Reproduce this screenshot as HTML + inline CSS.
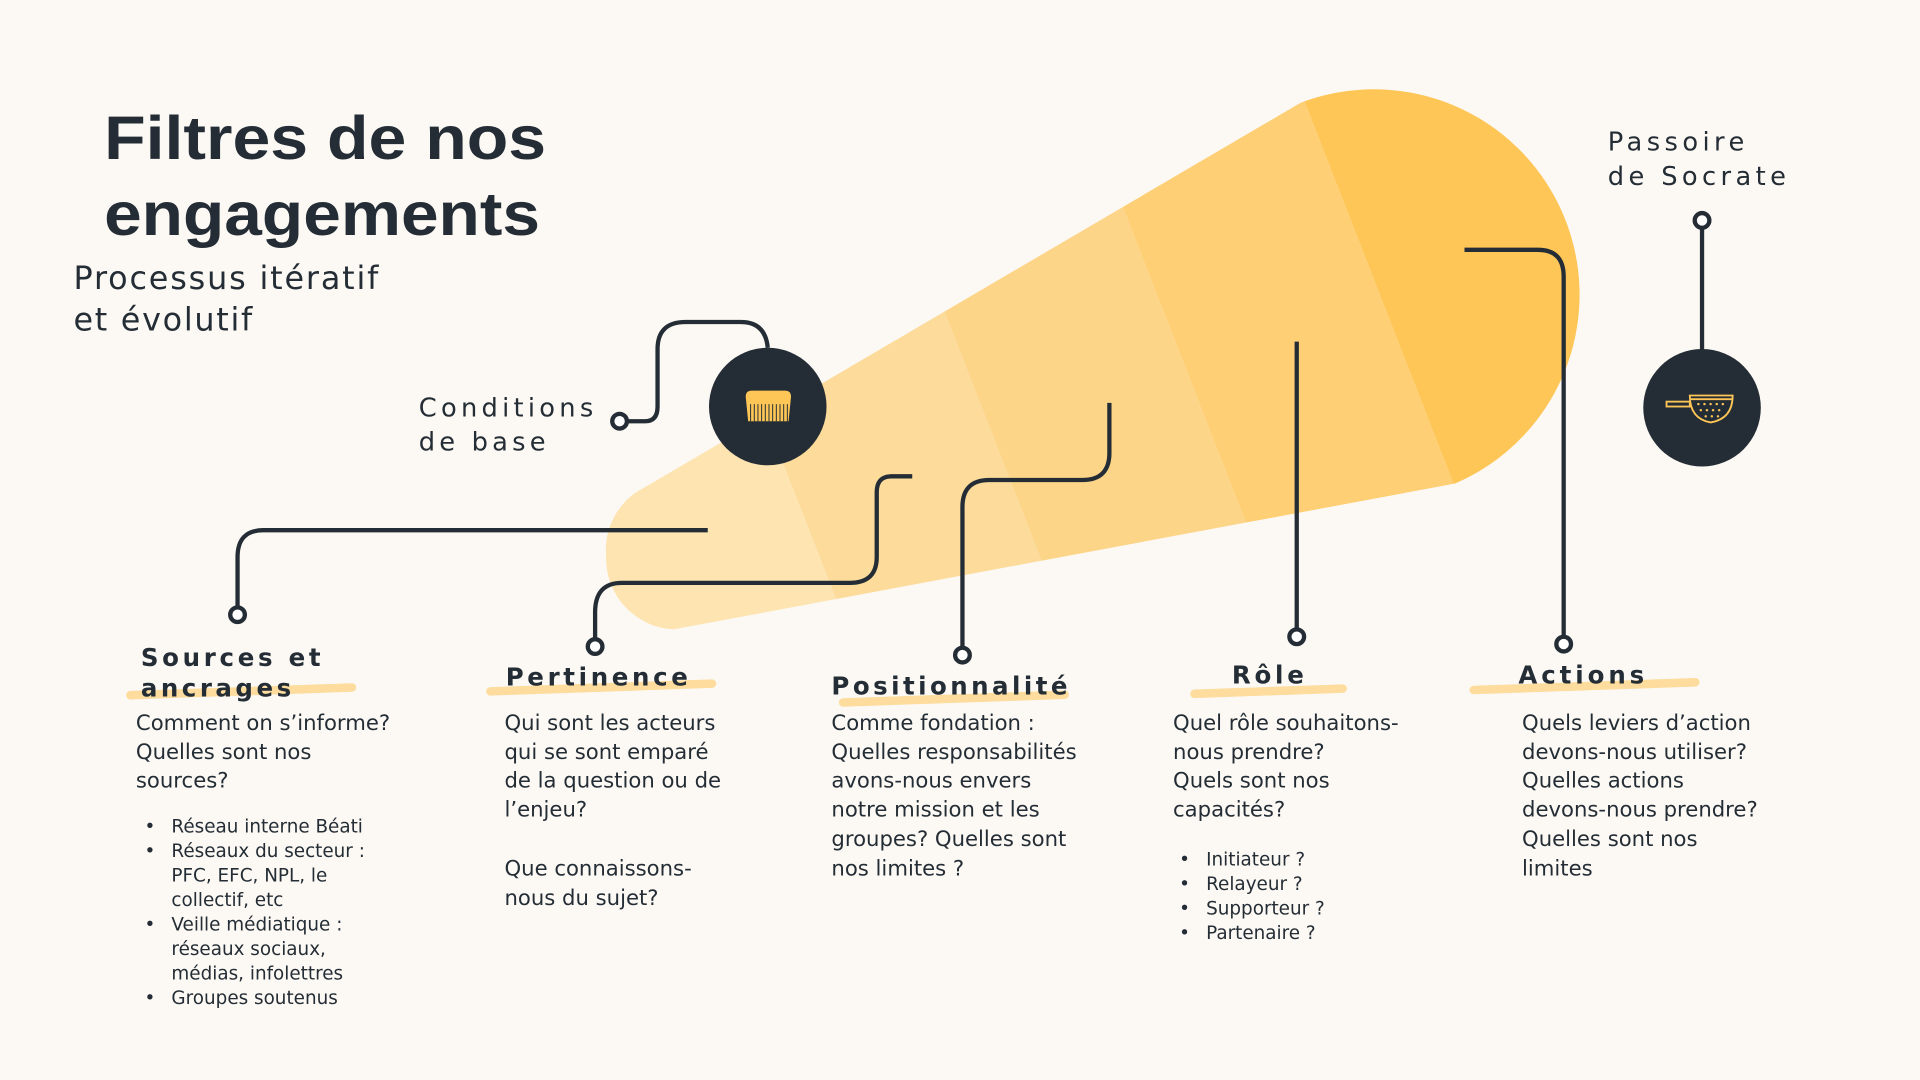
<!DOCTYPE html>
<html><head><meta charset="utf-8"><style>
html,body{margin:0;padding:0;background:#fcf9f4;}
svg{display:block}
text{font-family:"DejaVu Sans","Liberation Sans",sans-serif;fill:#242d35}
.t{font-size:17.3px}
.b{font-size:15px}
.h{font-size:20px;font-weight:bold;letter-spacing:1.2px}
.l{font-size:21px;letter-spacing:2.5px}
</style></head><body>
<svg width="1920" height="1080" viewBox="0 0 1568 882" xmlns="http://www.w3.org/2000/svg">
<rect width="1568" height="882" fill="#fcf9f4"/>
<defs><clipPath id="c">
<path d="M518,403 L1062,84 A168,168 0 0 1 1290,240 A168,168 0 0 1 1188,395 L550,514 A58,58 0 0 1 495,455 A58,58 0 0 1 518,403 Z"/>
</clipPath></defs>
<g clip-path="url(#c)">
<polygon points="300,0 492,0 836,882 300,882" fill="#fde4b0"/>
<polygon points="492,0 672,0 1016,882 836,882" fill="#fcdb9b"/>
<polygon points="672,0 851,0 1195,882 1016,882" fill="#fdd589"/>
<polygon points="851,0 1033,0 1377,882 1195,882" fill="#fecf75"/>
<polygon points="1033,0 1500,0 1500,882 1377,882" fill="#fec657"/>
</g>
<text x="85" y="130" style="font-size:50px;font-weight:bold;font-family:'Liberation Sans',sans-serif" textLength="361" lengthAdjust="spacingAndGlyphs">Filtres de nos</text>
<text x="85" y="192" style="font-size:50px;font-weight:bold;font-family:'Liberation Sans',sans-serif" textLength="356" lengthAdjust="spacingAndGlyphs">engagements</text>
<text x="60" y="236" style="font-size:26px" textLength="249">Processus itératif</text>
<text x="60" y="270" style="font-size:26px" textLength="146">et évolutif</text>
<text x="342" y="340" class="l" textLength="145">Conditions</text>
<text x="342" y="368" class="l" textLength="106">de base</text>
<text x="1313" y="123" class="l" textLength="114">Passoire</text>
<text x="1313" y="151" class="l" textLength="148">de Socrate</text>
<g fill="none" stroke="#242d35" stroke-width="3.5">
<path d="M506,344 H527 Q537,344 537,332 V285 Q537,263 560,263 H605 Q625,263 627,284"/>
<path d="M578,433 H215 Q194,433 194,455 V501"/>
<path d="M745,389 H728 Q716,389 716,402 V455 Q716,476 694,476 H508 Q486,476 486,500 V528"/>
<path d="M906,329 V370 Q906,392 884,392 H808 Q786,392 786,414 V535"/>
<path d="M1059,279 V519"/>
<path d="M1196,204 H1256 Q1277,204 1277,226 V526"/>
<path d="M1390,180 V290"/>
</g>
<g fill="#fff" stroke="#242d35" stroke-width="3.5">
<circle cx="506" cy="344" r="6"/><circle cx="194" cy="502" r="6"/>
<circle cx="486" cy="528" r="6"/><circle cx="786" cy="535" r="6"/>
<circle cx="1059" cy="520" r="6"/><circle cx="1277" cy="526" r="6"/>
<circle cx="1390" cy="180" r="6"/>
</g>
<circle cx="627" cy="332" r="48" fill="#242d35"/>
<path d="M609,324 Q609,319 614,319 H641 Q646,319 646,324 L644,344 H611 Z" fill="#fec657"/>
<g stroke="#242d35" stroke-width="0.8"><path d="M613,330V344M616,330V344M619,330V344M622,330V344M625,330V344M628,330V344M631,330V344M634,330V344M637,330V344M640,330V344M643,330V344"/></g>
<circle cx="1390" cy="333" r="48" fill="#242d35"/>
<g fill="none" stroke="#fec657" stroke-width="1.5"><path d="M1380,323 H1415 Q1415,342 1397,345 Q1380,342 1380,323Z"/><rect x="1361" y="328" width="19" height="4"/><path d="M1380,326 H1415"/></g>
<g fill="#fec657"><circle cx="1387" cy="330" r="1"/><circle cx="1392" cy="330" r="1"/><circle cx="1397" cy="330" r="1"/><circle cx="1402" cy="330" r="1"/><circle cx="1407" cy="330" r="1"/><circle cx="1389" cy="335" r="1"/><circle cx="1394" cy="335" r="1"/><circle cx="1399" cy="335" r="1"/><circle cx="1404" cy="335" r="1"/><circle cx="1393" cy="340" r="1"/><circle cx="1398" cy="340" r="1"/><circle cx="1403" cy="340" r="1"/></g>
<g fill="#fec657" opacity="0.55">
<rect x="103" y="561" width="188" height="7" rx="3.5" transform="rotate(-2 200 565)"/>
<rect x="397" y="558" width="188" height="7" rx="3.5" transform="rotate(-2 490 562)"/>
<rect x="685" y="567" width="188" height="7" rx="3.5" transform="rotate(-2 780 570)"/>
<rect x="972" y="561" width="128" height="7" rx="3.5" transform="rotate(-2 1036 565)"/>
<rect x="1200" y="557" width="188" height="7" rx="3.5" transform="rotate(-2 1290 560)"/>
</g>
<text x="115" y="544" class="h" textLength="148">Sources et</text>
<text x="115" y="569" class="h" textLength="124">ancrages</text>
<text x="413" y="560" class="h" textLength="150">Pertinence</text>
<text x="679" y="567" class="h" textLength="194">Positionnalité</text>
<text x="1006" y="558" class="h" textLength="60">Rôle</text>
<text x="1240" y="558" class="h" textLength="104">Actions</text>
<g>
<text x="111" y="596" class="t">Comment on s’informe?</text>
<text x="111" y="620" class="t">Quelles sont nos</text>
<text x="111" y="643" class="t">sources?</text>
<text x="412" y="596" class="t">Qui sont les acteurs</text>
<text x="412" y="620" class="t">qui se sont emparé</text>
<text x="412" y="643" class="t">de la question ou de</text>
<text x="412" y="667" class="t">l’enjeu?</text>
<text x="412" y="715" class="t">Que connaissons-</text>
<text x="412" y="739" class="t">nous du sujet?</text>
<text x="679" y="596" class="t">Comme fondation :</text>
<text x="679" y="620" class="t">Quelles responsabilités</text>
<text x="679" y="643" class="t">avons-nous envers</text>
<text x="679" y="667" class="t">notre mission et les</text>
<text x="679" y="691" class="t">groupes? Quelles sont</text>
<text x="679" y="715" class="t">nos limites ?</text>
<text x="958" y="596" class="t">Quel rôle souhaitons-</text>
<text x="958" y="620" class="t">nous prendre?</text>
<text x="958" y="643" class="t">Quels sont nos</text>
<text x="958" y="667" class="t">capacités?</text>
<text x="1243" y="596" class="t">Quels leviers d’action</text>
<text x="1243" y="620" class="t">devons-nous utiliser?</text>
<text x="1243" y="643" class="t">Quelles actions</text>
<text x="1243" y="667" class="t">devons-nous prendre?</text>
<text x="1243" y="691" class="t">Quelles sont nos</text>
<text x="1243" y="715" class="t">limites</text>
</g>
<g>
<text x="118" y="680" class="b">•</text><text x="140" y="680" class="b">Réseau interne Béati</text>
<text x="118" y="700" class="b">•</text><text x="140" y="700" class="b">Réseaux du secteur :</text>
<text x="140" y="720" class="b">PFC, EFC, NPL, le</text>
<text x="140" y="740" class="b">collectif, etc</text>
<text x="118" y="760" class="b">•</text><text x="140" y="760" class="b">Veille médiatique :</text>
<text x="140" y="780" class="b">réseaux sociaux,</text>
<text x="140" y="800" class="b">médias, infolettres</text>
<text x="118" y="820" class="b">•</text><text x="140" y="820" class="b">Groupes soutenus</text>
<text x="963" y="707" class="b">•</text><text x="985" y="707" class="b">Initiateur ?</text>
<text x="963" y="727" class="b">•</text><text x="985" y="727" class="b">Relayeur ?</text>
<text x="963" y="747" class="b">•</text><text x="985" y="747" class="b">Supporteur ?</text>
<text x="963" y="767" class="b">•</text><text x="985" y="767" class="b">Partenaire ?</text>
</g>
</svg>
</body></html>
